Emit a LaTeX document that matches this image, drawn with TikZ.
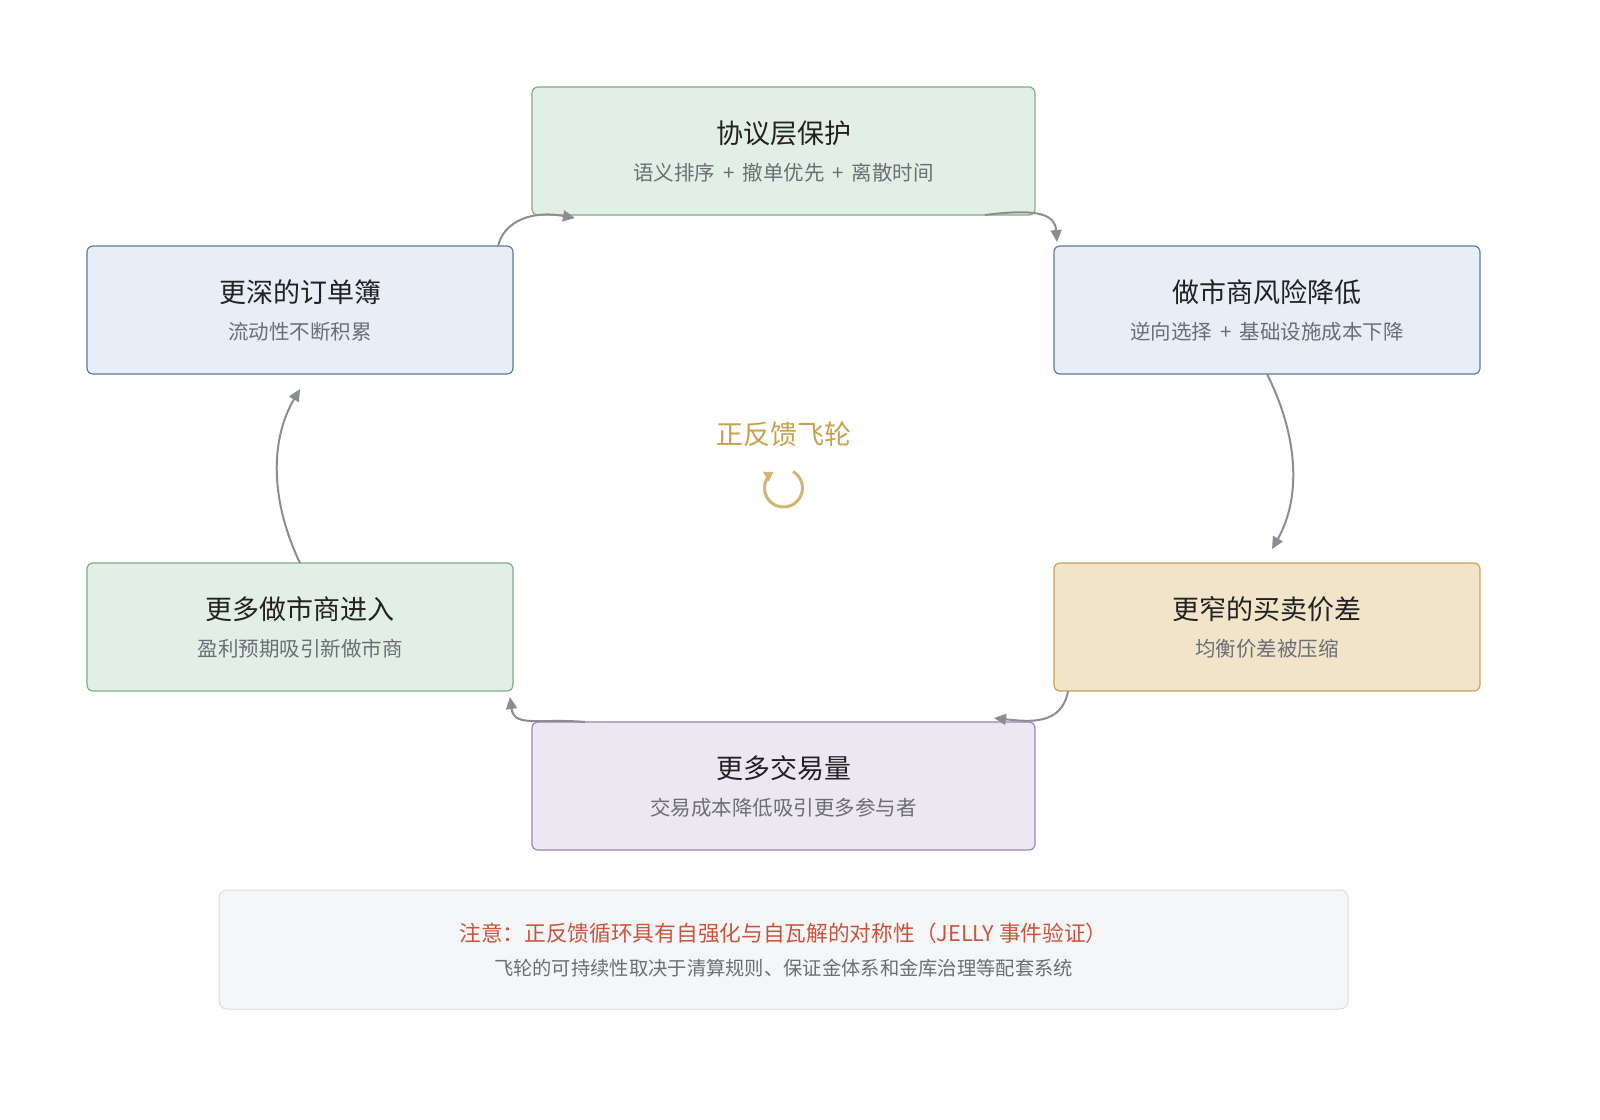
\documentclass[tikz,border=0pt]{standalone}
\usepackage{fontspec}
\setmainfont{Noto Sans CJK SC}
\usetikzlibrary{arrows.meta}
\definecolor{gfill}{HTML}{E2EFE6}\definecolor{gbord}{HTML}{7FAC8A}
\definecolor{bfill}{HTML}{E8EEF6}\definecolor{bbord}{HTML}{5B7AA8}
\definecolor{yfill}{HTML}{F1E4C9}\definecolor{ybord}{HTML}{C9A450}
\definecolor{pfill}{HTML}{EDE7F2}\definecolor{pbord}{HTML}{9B86B0}
\definecolor{nfill}{HTML}{F5F6F8}\definecolor{nbord}{HTML}{DCDCDC}
\definecolor{ttl}{HTML}{222222}\definecolor{sub}{HTML}{6B6F75}
\definecolor{arr}{HTML}{8A8E93}\definecolor{gold}{HTML}{C9A050}
\definecolor{warn}{HTML}{C8553D}
\begin{document}
\begin{tikzpicture}[x=1pt,y=-1pt,
 box/.style={draw,rounded corners=6pt,line width=1.2pt},
 t/.style={text=ttl,font=\fontsize{27}{30}\selectfont},
 s/.style={text=sub,font=\fontsize{20.5}{24}\selectfont},
 ar/.style={draw=arr,line width=2pt,-{Triangle[length=12pt,width=11pt]},fill=none}]
\useasboundingbox (0,0) rectangle (1600,1119);
\fill[white] (0,0) rectangle (1600,1119);
% boxes
\draw[box,fill=gfill,draw=gbord] (532,87) rectangle (1035,215);
\draw[box,fill=bfill,draw=bbord] (87,246) rectangle (513,374);
\draw[box,fill=bfill,draw=bbord] (1054,246) rectangle (1480,374);
\draw[box,fill=gfill,draw=gbord] (87,563) rectangle (513,691);
\draw[box,fill=yfill,draw=ybord] (1054,563) rectangle (1480,691);
\draw[box,fill=pfill,draw=pbord] (532,722) rectangle (1035,850);
\draw[draw=nbord,fill=nfill,rounded corners=8pt,line width=1pt] (219,890) rectangle (1348,1009);
% texts
\node[t] (a1) at (783.5,133) {协议层保护};
\node[s] (a2) at (783.5,173) {语义排序\ \,+\ \,撤单优先\ \,+\ \,离散时间};
\node[t] (b1) at (1267,292) {做市商风险降低};
\node[s] (b2) at (1267,332) {逆向选择\ \,+\ \,基础设施成本下降};
\node[t] (c1) at (1267,609) {更窄的买卖价差};
\node[s] (c2) at (1267,649) {均衡价差被压缩};
\node[t] (d1) at (783.5,768) {更多交易量};
\node[s] (d2) at (783.5,808) {交易成本降低吸引更多参与者};
\node[t] (e1) at (300,609) {更多做市商进入};
\node[s] (e2) at (300,649) {盈利预期吸引新做市商};
\node[t] (f1) at (300,292) {更深的订单簿};
\node[s] (f2) at (300,332) {流动性不断积累};
\node[text=gold,font=\fontsize{27}{30}\selectfont] (ctr) at (783.5,434) {正反馈飞轮};
\node[text=warn,font=\fontsize{21.7}{26}\selectfont] (n1) at (783.5,933) {注意：正反馈循环具有自强化与自瓦解的对称性（JELLY 事件验证）};
\node[text=sub,font=\fontsize{19.3}{22}\selectfont] (n2) at (783.5,968) {飞轮的可持续性取决于清算规则、保证金体系和金库治理等配套系统};
% circular icon
\draw[gold!80,line width=3pt,-{Triangle[length=9pt,width=11pt]}] (783.5,488) ++(-60:19) arc[start angle=-60,end angle=238,radius=19];
% connectors
\coordinate (p1) at (498,246); \coordinate (q1) at (575,218);
\draw[ar] (p1) .. controls (504,222) and (530,210) .. (q1);
\coordinate (p2) at (985,215); \coordinate (q2) at (1057,242);
\draw[ar] (p2) .. controls (1040,208) and (1055,215) .. (q2);
\coordinate (p3) at (1267,374); \coordinate (q3) at (1272,549);
\draw[ar] (p3) .. controls (1300,440) and (1300,500) .. (q3);
\coordinate (p4) at (1068,691); \coordinate (q4) at (994,718);
\draw[ar] (p4) .. controls (1062,725) and (1030,722) .. (q4);
\coordinate (p5) at (585,722); \coordinate (q5) at (510,697);
\draw[ar] (p5) .. controls (540,718) and (514,728) .. (q5);
\coordinate (p6) at (300,563); \coordinate (q6) at (300,389);
\draw[ar] (p6) .. controls (270,500) and (270,440) .. (q6);
\end{tikzpicture}
\end{document}
